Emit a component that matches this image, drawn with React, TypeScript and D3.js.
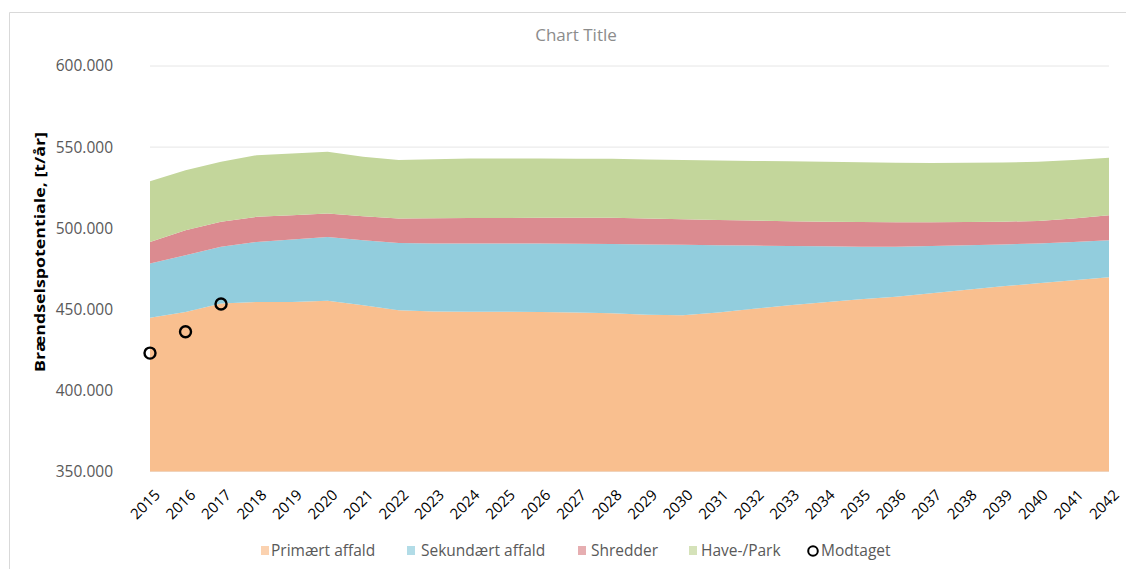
import React from "react";
import * as d3 from "d3";

const years = [
  2015, 2016, 2017, 2018, 2019, 2020, 2021, 2022, 2023, 2024, 2025, 2026, 2027, 2028,
  2029, 2030, 2031, 2032, 2033, 2034, 2035, 2036, 2037, 2038, 2039, 2040, 2041, 2042,
];

const primaert = [
  444800, 448400, 453500, 454500, 454500, 455200, 452500, 449400, 448700, 448500, 448500, 448300, 448000, 447500,
  446600, 446300, 448100, 450300, 452500, 454300, 456200, 457700, 459900, 462000, 464200, 466000, 467900, 469800,
];
const sekundaert = [
  33400, 34900, 35000, 37000, 38500, 39400, 40100, 41500, 41800, 42000, 42000, 42200, 42400, 42800,
  43400, 43500, 41400, 39000, 36500, 34500, 32400, 30800, 29100, 27500, 25800, 24600, 23600, 22800,
];
const shredder = [
  13300, 15500, 15400, 15500, 15000, 14500, 14800, 15100, 15700, 15800, 15800, 15900, 16000, 16100,
  16000, 15700, 15500, 15400, 15300, 15200, 15200, 15100, 14700, 14300, 14000, 13900, 14500, 15400,
];
const havePark = [
  37500, 37000, 37000, 38000, 38100, 38000, 36600, 36000, 36300, 36700, 36700, 36600, 36400, 36400,
  36300, 36500, 36800, 36800, 36900, 37000, 36800, 36700, 36500, 36500, 36500, 36500, 36000, 35500,
];

const modtagetYears = [2015, 2016, 2017];
const modtaget = [423000, 436200, 453300];

const yTicks = [350000, 400000, 450000, 500000, 550000, 600000];

const seriesKeys = ["Primært affald", "Sekundært affald", "Shredder", "Have-/Park"];
const seriesColors = ["#F9BF8F", "#92CDDD", "#DB8B90", "#C3D69B"];
const seriesValues = [primaert, sekundaert, shredder, havePark];

const W = 1126;
const H = 569;
const FONT = "'Open Sans', 'Noto Sans', sans-serif";
const TEXT = "#595959";

const fmt = (v: number) => d3.format(",")(v).replace(/,/g, ".");

export default function App() {
  const x = d3.scalePoint<number>().domain(years).range([150, 1109]);
  const y = d3.scaleLinear().domain([350000, 600000]).range([471.5, 66]);

  const rows = years.map((yr, i) => {
    const r: Record<string, number> = { year: yr };
    seriesKeys.forEach((k, j) => (r[k] = seriesValues[j][i]));
    return r;
  });
  const stacked = d3.stack<Record<string, number>>().keys(seriesKeys)(rows);

  const yMin = y.domain()[0];
  const area = d3
    .area<d3.SeriesPoint<Record<string, number>>>()
    .x((d) => x(d.data.year) as number)
    .y0((d) => y(Math.max(d[0], yMin)))
    .y1((d) => y(Math.max(d[1], yMin)))
    .curve(d3.curveLinear);

  const [x0, x1] = x.range();

  const legendItems = [
    { label: seriesKeys[0], color: seriesColors[0], sx: 261, tx: 271 },
    { label: seriesKeys[1], color: seriesColors[1], sx: 407, tx: 421 },
    { label: seriesKeys[2], color: seriesColors[2], sx: 578, tx: 591 },
    { label: seriesKeys[3], color: seriesColors[3], sx: 689, tx: 701 },
  ];

  return (
    <svg
      width={W}
      height={H}
      style={{ position: "fixed", left: 0, top: 0, display: "block", background: "#fff", overflow: "hidden" }}
      fontFamily={FONT}
    >
      {/* chart frame: top and left edges */}
      <line x1={9.5} x2={W} y1={12.5} y2={12.5} stroke="#D9D9D9" />
      <line x1={9.5} x2={9.5} y1={12.5} y2={H} stroke="#D9D9D9" />

      <text x={576} y={41} textAnchor="middle" fontSize={17} fill="#8C8C8C">
        Chart Title
      </text>

      {yTicks.map((t) => (
        <line key={t} x1={x0} x2={x1} y1={y(t)} y2={y(t)} stroke="#E6E6E6" strokeWidth={1} />
      ))}

      {stacked.map((s, i) => (
        <path key={s.key} d={area(s) || ""} fill={seriesColors[i]} />
      ))}

      {modtagetYears.map((yr, i) => (
        <circle
          key={yr}
          cx={x(yr) as number}
          cy={y(modtaget[i])}
          r={5.5}
          fill="none"
          stroke="#000"
          strokeWidth={2.4}
        />
      ))}

      {yTicks.map((t) => (
        <text key={t} x={113} y={y(t)} dy="0.35em" textAnchor="end" fontSize={15.5} fill={TEXT}>
          {fmt(t)}
        </text>
      ))}

      <text
        transform={`translate(45,${252}) rotate(-90)`}
        textAnchor="middle"
        fontSize={15}
        fontWeight="bold"
        fill="#000"
        textLength={240}
        lengthAdjust="spacingAndGlyphs"
      >
        Brændselspotentiale, [t/år]
      </text>

      {years.map((yr) => (
        <text
          key={yr}
          transform={`translate(${(x(yr) as number) + 3},${488}) rotate(-45)`}
          textAnchor="end"
          dy="0.75em"
          fontSize={15}
          fill="#000"
        >
          {yr}
        </text>
      ))}

      {legendItems.map((it) => (
        <g key={it.label}>
          <rect x={it.sx} y={546} width={8} height={9} fill={it.color} opacity={0.7} />
          <text x={it.tx} y={551} dy="0.35em" fontSize={15.5} fill={TEXT}>
            {it.label}
          </text>
        </g>
      ))}
      <circle cx={813} cy={551} r={4.8} fill="#fff" stroke="#000" strokeWidth={2} />
      <text x={821} y={551} dy="0.35em" fontSize={15.5} fill={TEXT}>
        Modtaget
      </text>
    </svg>
  );
}
